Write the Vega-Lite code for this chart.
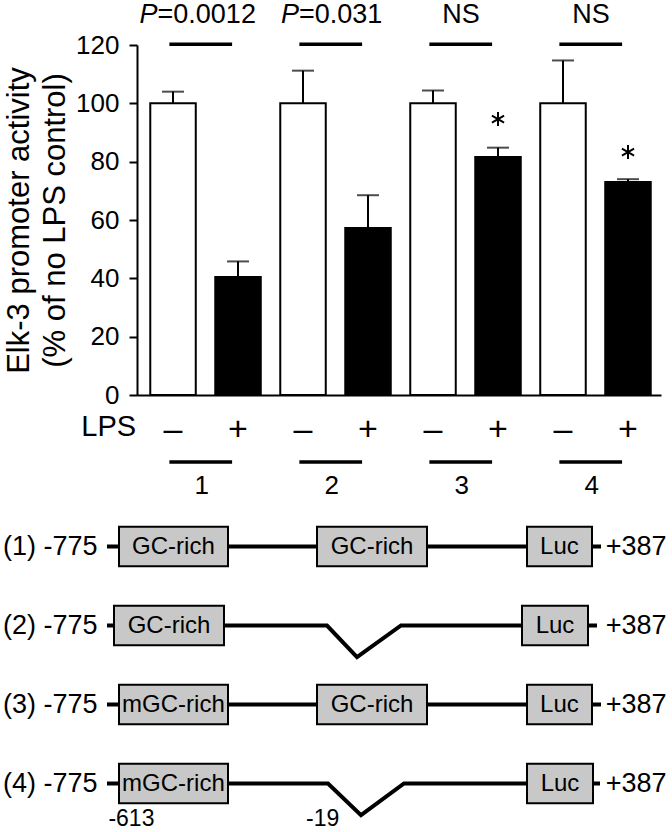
{
  "$schema": "https://vega.github.io/schema/vega-lite/v6.json",
  "padding": {"left": 3, "top": 1, "right": 0, "bottom": 0},
  "config": {"font": "Liberation Sans", "view": {"stroke": null}, "text": {"color": "black"}},
  "spacing": 7,
  "datasets": {
    "bars": [
      {"bar": "1-", "g": "1", "lps": "–", "trt": "no", "value": 100, "err": 104.0},
      {"bar": "1+", "g": "1", "lps": "+", "trt": "yes", "value": 40.5, "err": 45.8},
      {"bar": "2-", "g": "2", "lps": "–", "trt": "no", "value": 100, "err": 111.2},
      {"bar": "2+", "g": "2", "lps": "+", "trt": "yes", "value": 57.3, "err": 68.5},
      {"bar": "3-", "g": "3", "lps": "–", "trt": "no", "value": 100, "err": 104.4},
      {"bar": "3+", "g": "3", "lps": "+", "trt": "yes", "value": 81.6, "err": 84.8},
      {"bar": "4-", "g": "4", "lps": "–", "trt": "no", "value": 100, "err": 114.7},
      {"bar": "4+", "g": "4", "lps": "+", "trt": "yes", "value": 73.0, "err": 74.0}
    ],
    "groups": [
      {"g": "1", "w": "1-", "b": "1+", "p": "=0.0012", "pre": "P"},
      {"g": "2", "w": "2-", "b": "2+", "p": "=0.031", "pre": "P"},
      {"g": "3", "w": "3-", "b": "3+", "p": "NS", "pre": ""},
      {"g": "4", "w": "4-", "b": "4+", "p": "NS", "pre": ""}
    ],
    "stars": [
      {"bar": "3+", "sy": 94.6},
      {"bar": "4+", "sy": 83.3}
    ],
    "wire": [
      {"row": 1, "seq": 1, "u": 26, "r": 1},
      {"row": 1, "seq": 2, "u": 149.5, "r": 1},
      {"row": 2, "seq": 1, "u": 26, "r": 2},
      {"row": 2, "seq": 2, "u": 81, "r": 2},
      {"row": 2, "seq": 3, "u": 88.5, "r": 2.4},
      {"row": 2, "seq": 4, "u": 99.5, "r": 2},
      {"row": 2, "seq": 5, "u": 148.5, "r": 2},
      {"row": 3, "seq": 1, "u": 26, "r": 3},
      {"row": 3, "seq": 2, "u": 149.5, "r": 3},
      {"row": 4, "seq": 1, "u": 26, "r": 4},
      {"row": 4, "seq": 2, "u": 81.25, "r": 4},
      {"row": 4, "seq": 3, "u": 89.5, "r": 4.4},
      {"row": 4, "seq": 4, "u": 100.25, "r": 4},
      {"row": 4, "seq": 5, "u": 149.25, "r": 4}
    ],
    "boxes": [
      {"row": 1, "name": "GC-rich", "u0": 29, "u1": 56.25, "uc": 42.6, "r": 1, "r0": 0.75, "r1": 1.25},
      {"row": 1, "name": "GC-rich", "u0": 78.5, "u1": 106, "uc": 92.25, "r": 1, "r0": 0.75, "r1": 1.25},
      {"row": 1, "name": "Luc", "u0": 131, "u1": 147.25, "uc": 139.1, "r": 1, "r0": 0.75, "r1": 1.25},
      {"row": 2, "name": "GC-rich", "u0": 27.75, "u1": 55.25, "uc": 41.5, "r": 2, "r0": 1.75, "r1": 2.25},
      {"row": 2, "name": "Luc", "u0": 129.75, "u1": 146.25, "uc": 138, "r": 2, "r0": 1.75, "r1": 2.25},
      {"row": 3, "name": "mGC-rich", "u0": 29, "u1": 56.25, "uc": 42.6, "r": 3, "r0": 2.75, "r1": 3.25},
      {"row": 3, "name": "GC-rich", "u0": 78.5, "u1": 106, "uc": 92.25, "r": 3, "r0": 2.75, "r1": 3.25},
      {"row": 3, "name": "Luc", "u0": 131, "u1": 147.25, "uc": 139.1, "r": 3, "r0": 2.75, "r1": 3.25},
      {"row": 4, "name": "mGC-rich", "u0": 29, "u1": 56.25, "uc": 42.6, "r": 4, "r0": 3.75, "r1": 4.25},
      {"row": 4, "name": "Luc", "u0": 131, "u1": 147.5, "uc": 139.25, "r": 4, "r0": 3.75, "r1": 4.25}
    ],
    "rowlabels": [
      {"row": 1, "left": "(1) -775", "right": "+387"},
      {"row": 2, "left": "(2) -775", "right": "+387"},
      {"row": 3, "left": "(3) -775", "right": "+387"},
      {"row": 4, "left": "(4) -775", "right": "+387"}
    ],
    "coords": [
      {"label": "-613", "u": 32.1, "r": 4.54},
      {"label": "-19", "u": 79.9, "r": 4.54}
    ]
  },
  "vconcat": [
    {
      "width": 524,
      "height": 350,
      "layer": [
        {
          "data": {"name": "bars"},
          "mark": {"type": "rule", "strokeWidth": 2, "color": "black"},
          "encoding": {
            "x": {"field": "bar", "type": "nominal", "sort": null,
                  "scale": {"domain": ["1-","1+","2-","2+","3-","3+","4-","4+"], "paddingInner": 0.3, "paddingOuter": 0.181, "align": 0.564},
                  "axis": {"labels": false, "ticks": false, "title": null, "domain": true, "domainWidth": 2, "domainColor": "black", "grid": false}},
            "y": {"field": "value", "type": "quantitative",
                  "scale": {"domain": [0, 120], "nice": false},
                  "axis": {"values": [0, 20, 40, 60, 80, 100, 120], "grid": false, "tickSize": 8, "tickWidth": 2, "tickColor": "black",
                           "domainWidth": 2, "domainColor": "black", "labelFontSize": 26, "labelColor": "black", "labelPadding": 10,
                           "title": ["Elk-3 promoter activity", "(% of no LPS control)"], "titleFontSize": 31, "titleFontWeight": "normal",
                           "titleColor": "black", "titleLineHeight": 36, "titlePadding": 4}},
            "y2": {"field": "err"}
          }
        },
        {
          "data": {"name": "bars"},
          "mark": {"type": "bar", "stroke": "black", "strokeWidth": 2},
          "encoding": {
            "x": {"field": "bar", "type": "nominal"},
            "y": {"field": "value", "type": "quantitative"},
            "fill": {"field": "trt", "type": "nominal", "scale": {"domain": ["no", "yes"], "range": ["white", "black"]}, "legend": null}
          }
        },
        {
          "data": {"name": "bars"},
          "mark": {"type": "tick", "orient": "horizontal", "thickness": 2, "color": "black"},
          "encoding": {
            "x": {"field": "bar", "type": "nominal"},
            "y": {"field": "err", "type": "quantitative"},
            "size": {"value": 22}
          }
        },
        {
          "data": {"name": "stars"},
          "mark": {"type": "point", "shape": "M0,-1L0,1M-0.866,-0.5L0.866,0.5M-0.866,0.5L0.866,-0.5", "filled": false, "stroke": "black", "strokeWidth": 2, "opacity": 1},
          "encoding": {
            "x": {"field": "bar", "type": "nominal"},
            "y": {"field": "sy", "type": "quantitative"},
            "size": {"value": 196}
          }
        },
        {
          "data": {"name": "groups"},
          "mark": {"type": "rule", "strokeWidth": 3.5, "color": "black"},
          "encoding": {
            "x": {"field": "w", "type": "nominal", "bandPosition": 0.42},
            "x2": {"field": "b", "bandPosition": 0.37},
            "y": {"datum": 120.3, "type": "quantitative"}
          }
        },
        {
          "data": {"name": "groups"},
          "mark": {"type": "rule", "strokeWidth": 3.5, "color": "black"},
          "encoding": {
            "x": {"field": "w", "type": "nominal", "bandPosition": 0.42},
            "x2": {"field": "b", "bandPosition": 0.37},
            "y": {"datum": -23.0, "type": "quantitative"}
          }
        },
        {
          "data": {"name": "groups"},
          "transform": [{"filter": "datum.g == '1'"}],
          "mark": {"type": "text", "fontStyle": "italic", "fontSize": 27, "align": "right", "baseline": "alphabetic"},
          "encoding": {
            "x": {"field": "w", "type": "nominal", "bandPosition": 0.16},
            "y": {"datum": 127.5, "type": "quantitative"},
            "text": {"field": "pre"}
          }
        },
        {
          "data": {"name": "groups"},
          "transform": [{"filter": "datum.g == '1'"}],
          "mark": {"type": "text", "fontSize": 27, "align": "left", "baseline": "alphabetic"},
          "encoding": {
            "x": {"field": "w", "type": "nominal", "bandPosition": 0.16},
            "y": {"datum": 127.5, "type": "quantitative"},
            "text": {"field": "p"}
          }
        },
        {
          "data": {"name": "groups"},
          "transform": [{"filter": "datum.g == '2'"}],
          "mark": {"type": "text", "fontStyle": "italic", "fontSize": 27, "align": "right", "baseline": "alphabetic"},
          "encoding": {
            "x": {"field": "w", "type": "nominal", "bandPosition": 0.41},
            "y": {"datum": 127.5, "type": "quantitative"},
            "text": {"field": "pre"}
          }
        },
        {
          "data": {"name": "groups"},
          "transform": [{"filter": "datum.g == '2'"}],
          "mark": {"type": "text", "fontSize": 27, "align": "left", "baseline": "alphabetic"},
          "encoding": {
            "x": {"field": "w", "type": "nominal", "bandPosition": 0.41},
            "y": {"datum": 127.5, "type": "quantitative"},
            "text": {"field": "p"}
          }
        },
        {
          "data": {"name": "groups"},
          "transform": [{"filter": "datum.pre == ''"}],
          "mark": {"type": "text", "fontSize": 27, "align": "center", "baseline": "alphabetic"},
          "encoding": {
            "x": {"field": "w", "type": "nominal", "bandPosition": 1.115},
            "y": {"datum": 127.5, "type": "quantitative"},
            "text": {"field": "p"}
          }
        },
        {
          "data": {"name": "groups"},
          "mark": {"type": "text", "fontSize": 26, "align": "center", "baseline": "alphabetic"},
          "encoding": {
            "x": {"field": "w", "type": "nominal", "bandPosition": 1.13},
            "y": {"datum": -34.0, "type": "quantitative"},
            "text": {"field": "g"}
          }
        },
        {
          "data": {"name": "bars"},
          "mark": {"type": "text", "fontSize": 34, "align": "center", "baseline": "alphabetic"},
          "encoding": {
            "x": {"field": "bar", "type": "nominal"},
            "y": {"datum": -15.4, "type": "quantitative"},
            "text": {"field": "lps"}
          }
        },
        {
          "data": {"values": [{"bar": "1-", "t": "LPS"}]},
          "mark": {"type": "text", "fontSize": 29, "align": "right", "baseline": "alphabetic"},
          "encoding": {
            "x": {"field": "bar", "type": "nominal", "bandPosition": -0.31},
            "y": {"datum": -14.1, "type": "quantitative"},
            "text": {"field": "t"}
          }
        }
      ]
    },
    {
      "width": 530,
      "height": 316,
      "layer": [
        {
          "data": {"name": "wire"},
          "mark": {"type": "line", "strokeWidth": 4, "color": "black", "strokeJoin": "miter", "strokeCap": "butt"},
          "encoding": {
            "x": {"field": "u", "type": "quantitative", "scale": {"domain": [33.5, 166], "nice": false, "zero": false}, "axis": null},
            "y": {"field": "r", "type": "quantitative", "scale": {"domain": [0.5, 4.5], "nice": false, "zero": false, "reverse": true}, "axis": null},
            "detail": {"field": "row"},
            "order": {"field": "seq"}
          }
        },
        {
          "data": {"name": "boxes"},
          "mark": {"type": "rect", "fill": "#c8c8c8", "stroke": "black", "strokeWidth": 2},
          "encoding": {
            "x": {"field": "u0", "type": "quantitative", "scale": {"domain": [33.5, 166], "nice": false, "zero": false}, "axis": null},
            "x2": {"field": "u1"},
            "y": {"field": "r0", "type": "quantitative", "scale": {"domain": [0.5, 4.5], "nice": false, "zero": false, "reverse": true}, "axis": null},
            "y2": {"field": "r1"}
          }
        },
        {
          "data": {"name": "boxes"},
          "mark": {"type": "text", "fontSize": 24, "align": "center", "baseline": "middle"},
          "encoding": {
            "x": {"field": "uc", "type": "quantitative", "axis": null},
            "y": {"field": "r", "type": "quantitative", "axis": null},
            "text": {"field": "name"}
          }
        },
        {
          "data": {"name": "rowlabels"},
          "mark": {"type": "text", "fontSize": 27, "align": "left", "baseline": "middle"},
          "encoding": {
            "x": {"datum": 0, "type": "quantitative", "axis": null},
            "y": {"field": "row", "type": "quantitative", "axis": null},
            "text": {"field": "left"}
          }
        },
        {
          "data": {"name": "rowlabels"},
          "mark": {"type": "text", "fontSize": 27, "align": "left", "baseline": "middle"},
          "encoding": {
            "x": {"datum": 150.7, "type": "quantitative", "axis": null},
            "y": {"field": "row", "type": "quantitative", "axis": null},
            "text": {"field": "right"}
          }
        },
        {
          "data": {"name": "coords"},
          "mark": {"type": "text", "fontSize": 23, "align": "center", "baseline": "alphabetic"},
          "encoding": {
            "x": {"field": "u", "type": "quantitative", "axis": null},
            "y": {"field": "r", "type": "quantitative", "axis": null},
            "text": {"field": "label"}
          }
        }
      ]
    }
  ]
}
